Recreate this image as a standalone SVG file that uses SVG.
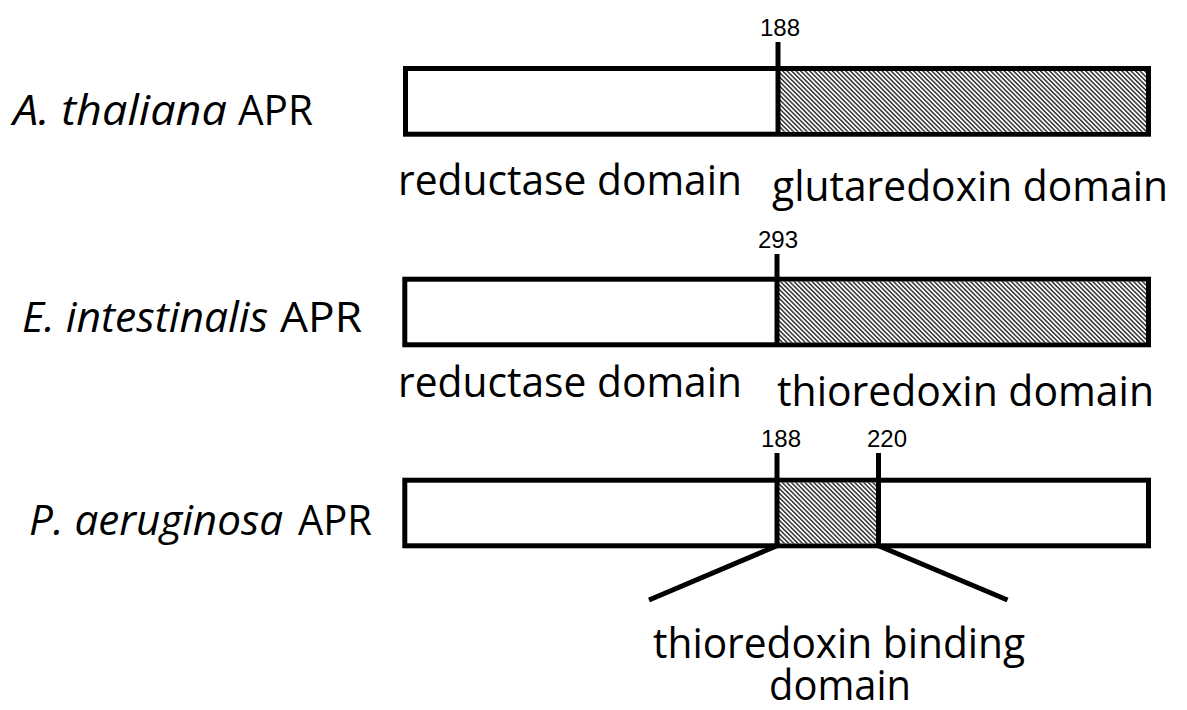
<svg xmlns="http://www.w3.org/2000/svg" width="1187" height="710" viewBox="0 0 1187 710">
<style>
.lbl{font-family:"Open Sans","Lato","Liberation Sans",sans-serif;font-size:42px;fill:#000}
.it{font-style:italic}
.num{font-family:"Liberation Sans",Arial,sans-serif;font-size:24px;fill:#000;text-anchor:middle}
.box{fill:#fff;stroke:#000;stroke-width:5}
.tick{stroke:#000;stroke-width:5;fill:none}
.hatch{fill:url(#hatch);stroke:none}
</style>
<defs>
<pattern id="hatch" patternUnits="userSpaceOnUse" width="3.2" height="3.2" patternTransform="rotate(-45)">
<rect width="3.2" height="3.2" fill="#fff"/>
<rect width="1.5" height="3.2" fill="#333"/>
</pattern>
</defs>
<rect width="1187" height="710" fill="#fff"/>

<g id="node-athaliana">
<text class="lbl it" x="13" y="125" textLength="214" lengthAdjust="spacingAndGlyphs">A. thaliana</text>
<text class="lbl" x="238" y="125" textLength="75" lengthAdjust="spacingAndGlyphs">APR</text>
<rect class="box" x="405.5" y="68.5" width="743" height="65.7"/>
<rect class="hatch" x="778" y="71" width="368" height="60.7"/>
<line class="tick" x1="778" y1="42" x2="778" y2="134.2"/>
<text class="num" x="780" y="36">188</text>
<text class="lbl" x="398" y="195" textLength="344" lengthAdjust="spacingAndGlyphs">reductase domain</text>
<text class="lbl" x="772" y="201" textLength="396" lengthAdjust="spacingAndGlyphs">glutaredoxin domain</text>
</g>

<g id="node-eintestinalis">
<text class="lbl it" x="22" y="332" textLength="246" lengthAdjust="spacingAndGlyphs">E. intestinalis</text>
<text class="lbl" x="280" y="332" textLength="82" lengthAdjust="spacingAndGlyphs">APR</text>
<rect class="box" x="404.8" y="279.2" width="743.7" height="65.6"/>
<rect class="hatch" x="777" y="281.7" width="369" height="60.6"/>
<line class="tick" x1="777" y1="254" x2="777" y2="344.8"/>
<text class="num" x="778" y="248">293</text>
<text class="lbl" x="398" y="397" textLength="344" lengthAdjust="spacingAndGlyphs">reductase domain</text>
<text class="lbl" x="777" y="406" textLength="377" lengthAdjust="spacingAndGlyphs">thioredoxin domain</text>
</g>

<g id="node-paeruginosa">
<text class="lbl it" x="29" y="535" textLength="254" lengthAdjust="spacingAndGlyphs">P. aeruginosa</text>
<text class="lbl" x="298" y="535" textLength="74" lengthAdjust="spacingAndGlyphs">APR</text>
<rect class="box" x="404.8" y="480.2" width="743.7" height="65.6"/>
<rect class="hatch" x="777" y="482.7" width="101.5" height="60.6"/>
<line class="tick" x1="777" y1="453" x2="777" y2="545.8"/>
<line class="tick" x1="878.5" y1="453" x2="878.5" y2="545.8"/>
<text class="num" x="781" y="447">188</text>
<text class="num" x="887" y="447">220</text>
<text class="lbl" x="653" y="658" textLength="372" lengthAdjust="spacingAndGlyphs">thioredoxin binding</text>
<text class="lbl" x="769" y="700" textLength="142" lengthAdjust="spacingAndGlyphs">domain</text>
</g>

<g id="connectors">
<line class="tick" x1="777" y1="545.8" x2="649" y2="600"/>
<line class="tick" x1="878.5" y1="545.8" x2="1007.5" y2="600"/>
</g>
</svg>
